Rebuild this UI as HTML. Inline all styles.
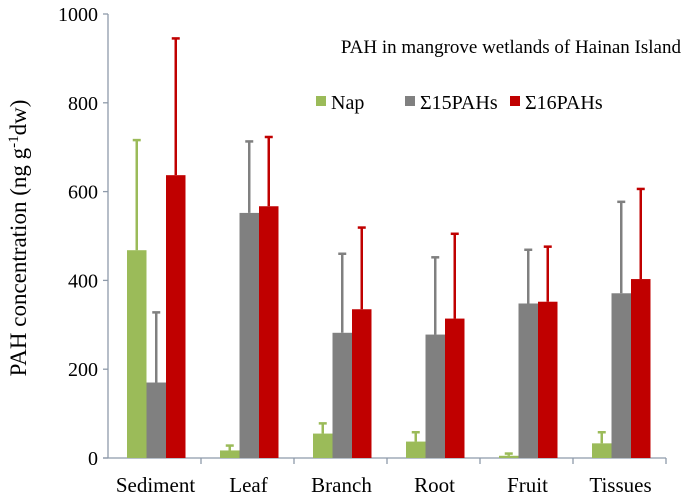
<!DOCTYPE html>
<html><head><meta charset="utf-8"><style>
body{margin:0;background:#fff}
</style></head><body>
<svg id="c" width="685" height="499" style="font-family:'Liberation Serif','DejaVu Serif',serif"></svg>
<script>
const categories=["Sediment","Leaf","Branch","Root","Fruit","Tissues"];
const napValues=[468,17,55,37,5,33];
const napErr=[716,28,78,58,10,58];
const pah15Values=[170,552,282,278,348,371];
const pah15Err=[328,713,460,452,469,577];
const pah16Values=[637,567,335,314,352,403];
const pah16Err=[945,723,519,505,476,606];
const yTicks=[0,200,400,600,800,1000];
const seriesNames=["Nap","Σ15PAHs","Σ16PAHs"];

const svg=document.getElementById('c');
const NS='http://www.w3.org/2000/svg';
const FF="'Liberation Serif', serif";
function mk(t,a,txt){const e=document.createElementNS(NS,t);for(const k in a)e.setAttribute(k,a[k]);if(t==='text'){e.setAttribute('font-family',FF);e.style.fontFamily=FF;}if(txt!==undefined)e.textContent=txt;svg.appendChild(e);return e;}
const x0=108,catW=93,y0=458,yTop=14;
const y=v=>y0-(v/1000)*(y0-yTop);
const colors=["#9bbb59","#808080","#c00000"];
const series=[[napValues,napErr],[pah15Values,pah15Err],[pah16Values,pah16Err]];
const axis="#8e9aaa";
let e=mk('line',{x1:x0,y1:yTop,x2:x0,y2:y0,stroke:axis,'stroke-width':1.3});

yTicks.forEach(t=>{
  let l=mk('line',{x1:x0-5,x2:x0,y1:y(t),y2:y(t),stroke:axis,'stroke-width':1.3});
  
  let tx=mk('text',{x:x0-10,y:y(t)+7,'text-anchor':'end','font-size':20},t);
  
});
e=mk('line',{x1:x0-5,y1:y0,x2:x0+catW*categories.length,y2:y0,stroke:axis,'stroke-width':1.3});

categories.forEach((c,i)=>{
  const cx=x0+catW*i;
  let l=mk('line',{x1:cx+catW,x2:cx+catW,y1:y0,y2:y0+6,stroke:axis,'stroke-width':1.3});
  
  let tx=mk('text',{x:cx+catW/2+1,y:y0+34,'text-anchor':'middle','font-size':21},c);
  
  series.forEach((s,j)=>{
    const bx=cx+19+j*19.5, w=19.5;
    const top=y(s[1][i]), ex=bx+w/2;
    let el=mk('line',{x1:ex,x2:ex,y1:top,y2:y(s[0][i]),stroke:colors[j],'stroke-width':2.5});
    
    el=mk('line',{x1:ex-4,x2:ex+4,y1:top,y2:top,stroke:colors[j],'stroke-width':2.5});
    
    const r=mk('rect',{x:bx,y:y(s[0][i]),width:w,height:y0-y(s[0][i]),fill:colors[j]});
    
  });
});
e=mk('text',{x:0,y:0,'font-size':23,transform:'translate(26 238) rotate(-90)','text-anchor':'middle'});
e.innerHTML='PAH concentration  (ng g<tspan dy="-8" font-size="15">-1</tspan><tspan dy="8">dw)</tspan>';

e=mk('text',{x:681,y:53,'text-anchor':'end','font-size':19},'PAH in mangrove wetlands of Hainan Island');

const lx=[316,405,510];
seriesNames.forEach((n,j)=>{
  let r=mk('rect',{x:lx[j],y:96,width:10,height:10,fill:colors[j]});
  
  let t=mk('text',{x:lx[j]+15,y:109,'font-size':20},n);
  
});
</script>
</body></html>
